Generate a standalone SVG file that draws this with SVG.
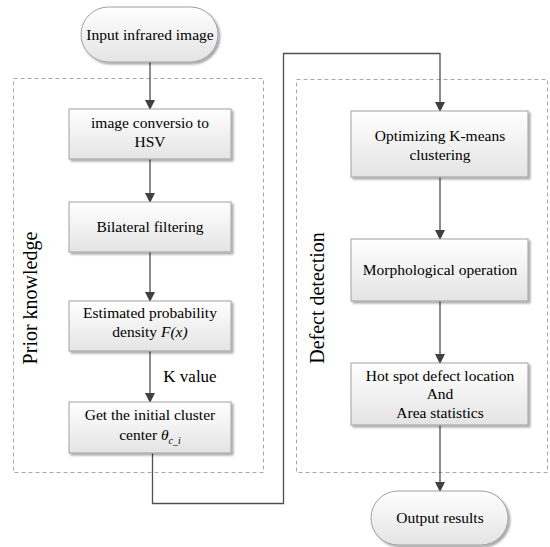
<svg xmlns="http://www.w3.org/2000/svg" width="550" height="547" viewBox="0 0 550 547">
<defs>
<linearGradient id="g" x1="0" y1="0" x2="0" y2="1">
<stop offset="0" stop-color="#ffffff"/>
<stop offset="1" stop-color="#e4e4e4"/>
</linearGradient>
<filter id="sh" x="-10%" y="-10%" width="130%" height="140%">
<feGaussianBlur in="SourceAlpha" stdDeviation="1.2"/>
<feOffset dx="2" dy="2" result="b"/>
<feComponentTransfer><feFuncA type="linear" slope="0.35"/></feComponentTransfer>
<feMerge><feMergeNode/><feMergeNode in="SourceGraphic"/></feMerge>
</filter>
<marker id="ah" markerWidth="10" markerHeight="10" refX="9" refY="5" orient="auto" markerUnits="userSpaceOnUse">
<path d="M0,0 L10,5 L0,10 z" fill="#404040"/>
</marker>
</defs>
<style>
.box{fill:url(#g);stroke:#a0a0a0;stroke-width:1;filter:url(#sh)}
.grp{fill:none;stroke:#a8a8a8;stroke-width:1;stroke-dasharray:4 3}
.t{font-family:"Liberation Serif","Times New Roman",serif;font-size:15.5px;fill:#000;text-anchor:middle}
.lbl{font-family:"Liberation Serif","Times New Roman",serif;font-size:20px;fill:#000;text-anchor:middle}
.c{fill:none;stroke:#505050;stroke-width:1.3}
.a{marker-end:url(#ah)}
</style>
<g id="group-prior">
<rect class="grp" x="13.5" y="78.5" width="250" height="394"/>
<text class="lbl" transform="translate(37,298) rotate(-90)">Prior knowledge</text>
</g>
<g id="group-defect">
<rect class="grp" x="296.5" y="79.5" width="251" height="393"/>
<text class="lbl" transform="translate(324,298) rotate(-90)">Defect detection</text>
</g>
<g id="connectors">
<line class="c a" x1="150" y1="62" x2="150" y2="109"/>
<line class="c a" x1="150" y1="159" x2="150" y2="202"/>
<line class="c a" x1="150" y1="252" x2="150" y2="301"/>
<line class="c a" x1="150" y1="351" x2="150" y2="402"/>
<text class="t" x="190" y="382" style="font-size:17px">K value</text>
<polyline class="c a" points="152.5,453 152.5,503.5 283.5,503.5 283.5,53.5 440,53.5 440,111"/>
<line class="c a" x1="440" y1="177" x2="440" y2="239"/>
<line class="c a" x1="440" y1="301" x2="440" y2="363"/>
<line class="c a" x1="440" y1="425" x2="440" y2="491"/>
</g>
<g id="start">
<rect class="box" x="81" y="7" width="137" height="55" rx="27.5" ry="27.5"/>
<text class="t" x="150" y="40">Input infrared image</text>
</g>
<g id="hsv">
<rect class="box" x="69" y="109" width="162" height="50"/>
<text class="t" x="150" y="128">image conversio to</text>
<text class="t" x="150" y="147">HSV</text>
</g>
<g id="bilateral">
<rect class="box" x="69" y="202" width="162" height="50"/>
<text class="t" x="150" y="232">Bilateral filtering</text>
</g>
<g id="density">
<rect class="box" x="69" y="301" width="162" height="50"/>
<text class="t" x="150" y="318">Estimated probability</text>
<text class="t" x="150" y="337">density <tspan font-style="italic">F(x)</tspan></text>
</g>
<g id="center">
<rect class="box" x="69" y="402" width="162" height="51"/>
<text class="t" x="150" y="420">Get the initial cluster</text>
<text class="t" x="150" y="440">center  <tspan font-style="italic">θ</tspan><tspan font-style="italic" font-size="10px" dy="4">c_i</tspan></text>
</g>
<g id="kmeans">
<rect class="box" x="351" y="111" width="177" height="66"/>
<text class="t" x="440" y="141">Optimizing K-means</text>
<text class="t" x="440" y="160">clustering</text>
</g>
<g id="morph">
<rect class="box" x="351" y="239" width="177" height="62"/>
<text class="t" x="440" y="275">Morphological operation</text>
</g>
<g id="hotspot">
<rect class="box" x="351" y="363" width="177" height="62"/>
<text class="t" x="440" y="381">Hot spot defect location</text>
<text class="t" x="440" y="399">And</text>
<text class="t" x="440" y="418">Area statistics</text>
</g>
<g id="end">
<rect class="box" x="371" y="491" width="137" height="54" rx="27" ry="27"/>
<text class="t" x="440" y="523">Output results</text>
</g>
</svg>
